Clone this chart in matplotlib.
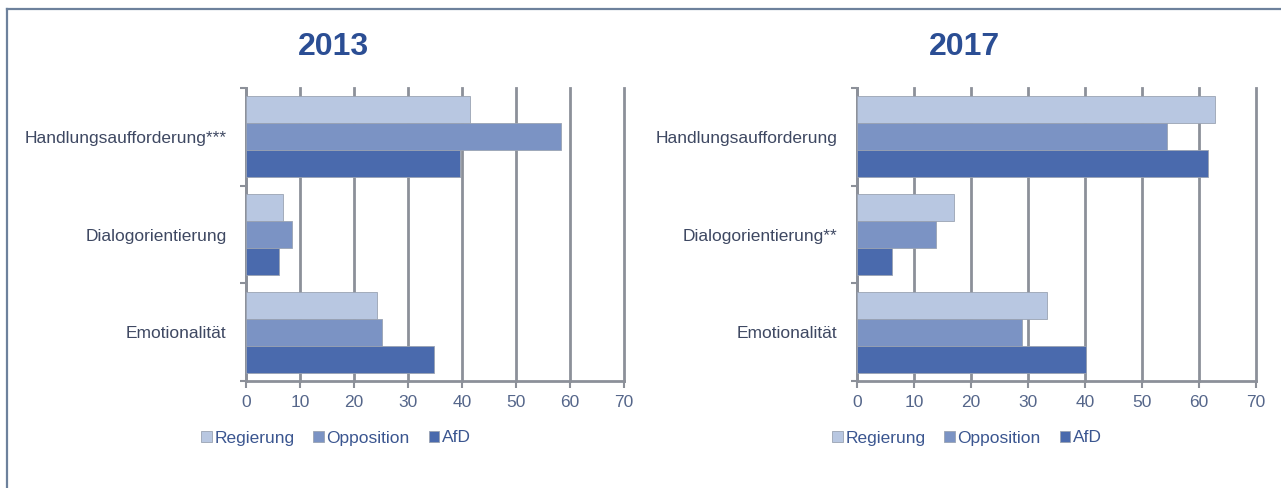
import numpy as np
import matplotlib.pyplot as plt
from matplotlib.lines import Line2D

plt.rcParams['font.family'] = ['Liberation Sans', 'DejaVu Sans']

# Daten (Anteile in %)
series = ['Regierung', 'Opposition', 'AfD']
cats_2013 = ['Handlungsaufforderung***', 'Dialogorientierung', 'Emotionalität']
cats_2017 = ['Handlungsaufforderung', 'Dialogorientierung**', 'Emotionalität']
regierung_2013 = [41.5, 6.8, 24.3]
opposition_2013 = [58.3, 8.5, 25.1]
afd_2013 = [39.7, 6.1, 34.8]
regierung_2017 = [62.8, 17.1, 33.4]
opposition_2017 = [54.3, 13.8, 28.9]
afd_2017 = [61.5, 6.1, 40.2]
xticks = [0, 10, 20, 30, 40, 50, 60, 70]

colors = ['#b8c7e1', '#7b93c4', '#4a6aad']
grid_col = '#8c9099'
title_col = '#2b4e94'
label_col = '#3e4862'
tick_col = '#55668a'
legend_col = '#3b5690'

W, H = 1281, 488
fig = plt.figure(figsize=(W / 100, H / 100), dpi=100)


def draw_panel(left_px, right_px, cats, values, title, title_x, legend_x):
    ax = fig.add_axes([left_px / W, 1 - 381 / H, (right_px - left_px) / W, (381 - 88) / H])
    n = len(cats)
    centers = np.arange(n) + 0.5
    h = 0.277
    for k, (vals, col) in enumerate(zip(values, colors)):
        ax.barh(centers + (k - 1) * h, vals, height=h, color=col,
                edgecolor='#9aa3b3', linewidth=0.6, label=series[k], zorder=3)
    ax.set_xlim(0, 70)
    ax.set_ylim(n, 0)
    ax.set_xticks(xticks)
    ax.set_xticklabels([str(t) for t in xticks], fontsize=12.5, color=tick_col)
    ax.xaxis.grid(True, color=grid_col, linewidth=2, zorder=0)
    for gl in ax.get_xgridlines():
        gl.set_clip_on(False)
    ax.set_yticks(np.arange(n + 1))
    ax.set_yticklabels([])
    ax.set_yticks(centers, minor=True)
    ax.set_yticklabels(cats, minor=True, fontsize=12.5, color=label_col)
    ax.tick_params(axis='y', which='major', length=4, width=1.5, color=grid_col)
    ax.tick_params(axis='y', which='minor', length=0, pad=14)
    ax.tick_params(axis='x', length=5, width=1.5, color=grid_col, pad=5)
    for s in ['top', 'right']:
        ax.spines[s].set_visible(False)
    for s in ['left', 'bottom']:
        ax.spines[s].set_color(grid_col)
        ax.spines[s].set_linewidth(2)
    fig.text(title_x / W, 1 - 47 / H, title, ha='center', va='center',
             fontsize=23, fontweight='bold', color=title_col)
    leg = ax.legend(loc='center', bbox_to_anchor=(legend_x / W, 1 - 438 / H),
                    bbox_transform=fig.transFigure, ncol=3, frameon=False,
                    fontsize=12.5, handlelength=0.6, handleheight=0.6,
                    handletextpad=0.15, columnspacing=1.1)
    for t in leg.get_texts():
        t.set_color(legend_col)
    return ax


ax1 = draw_panel(246, 624, cats_2013, [regierung_2013, opposition_2013, afd_2013], '2013', 333, 336)
ax2 = draw_panel(857, 1256, cats_2017, [regierung_2017, opposition_2017, afd_2017], '2017', 964, 967)

# Rahmen (oben und links sichtbar)
frame_col = '#6d819c'
fig.add_artist(Line2D([6.5 / W, 1], [1 - 8.5 / H, 1 - 8.5 / H], transform=fig.transFigure,
                      color=frame_col, linewidth=1.6))
fig.add_artist(Line2D([6.5 / W, 6.5 / W], [0, 1 - 8.5 / H], transform=fig.transFigure,
                      color=frame_col, linewidth=1.6))

fig.savefig('out.png', dpi=100)
